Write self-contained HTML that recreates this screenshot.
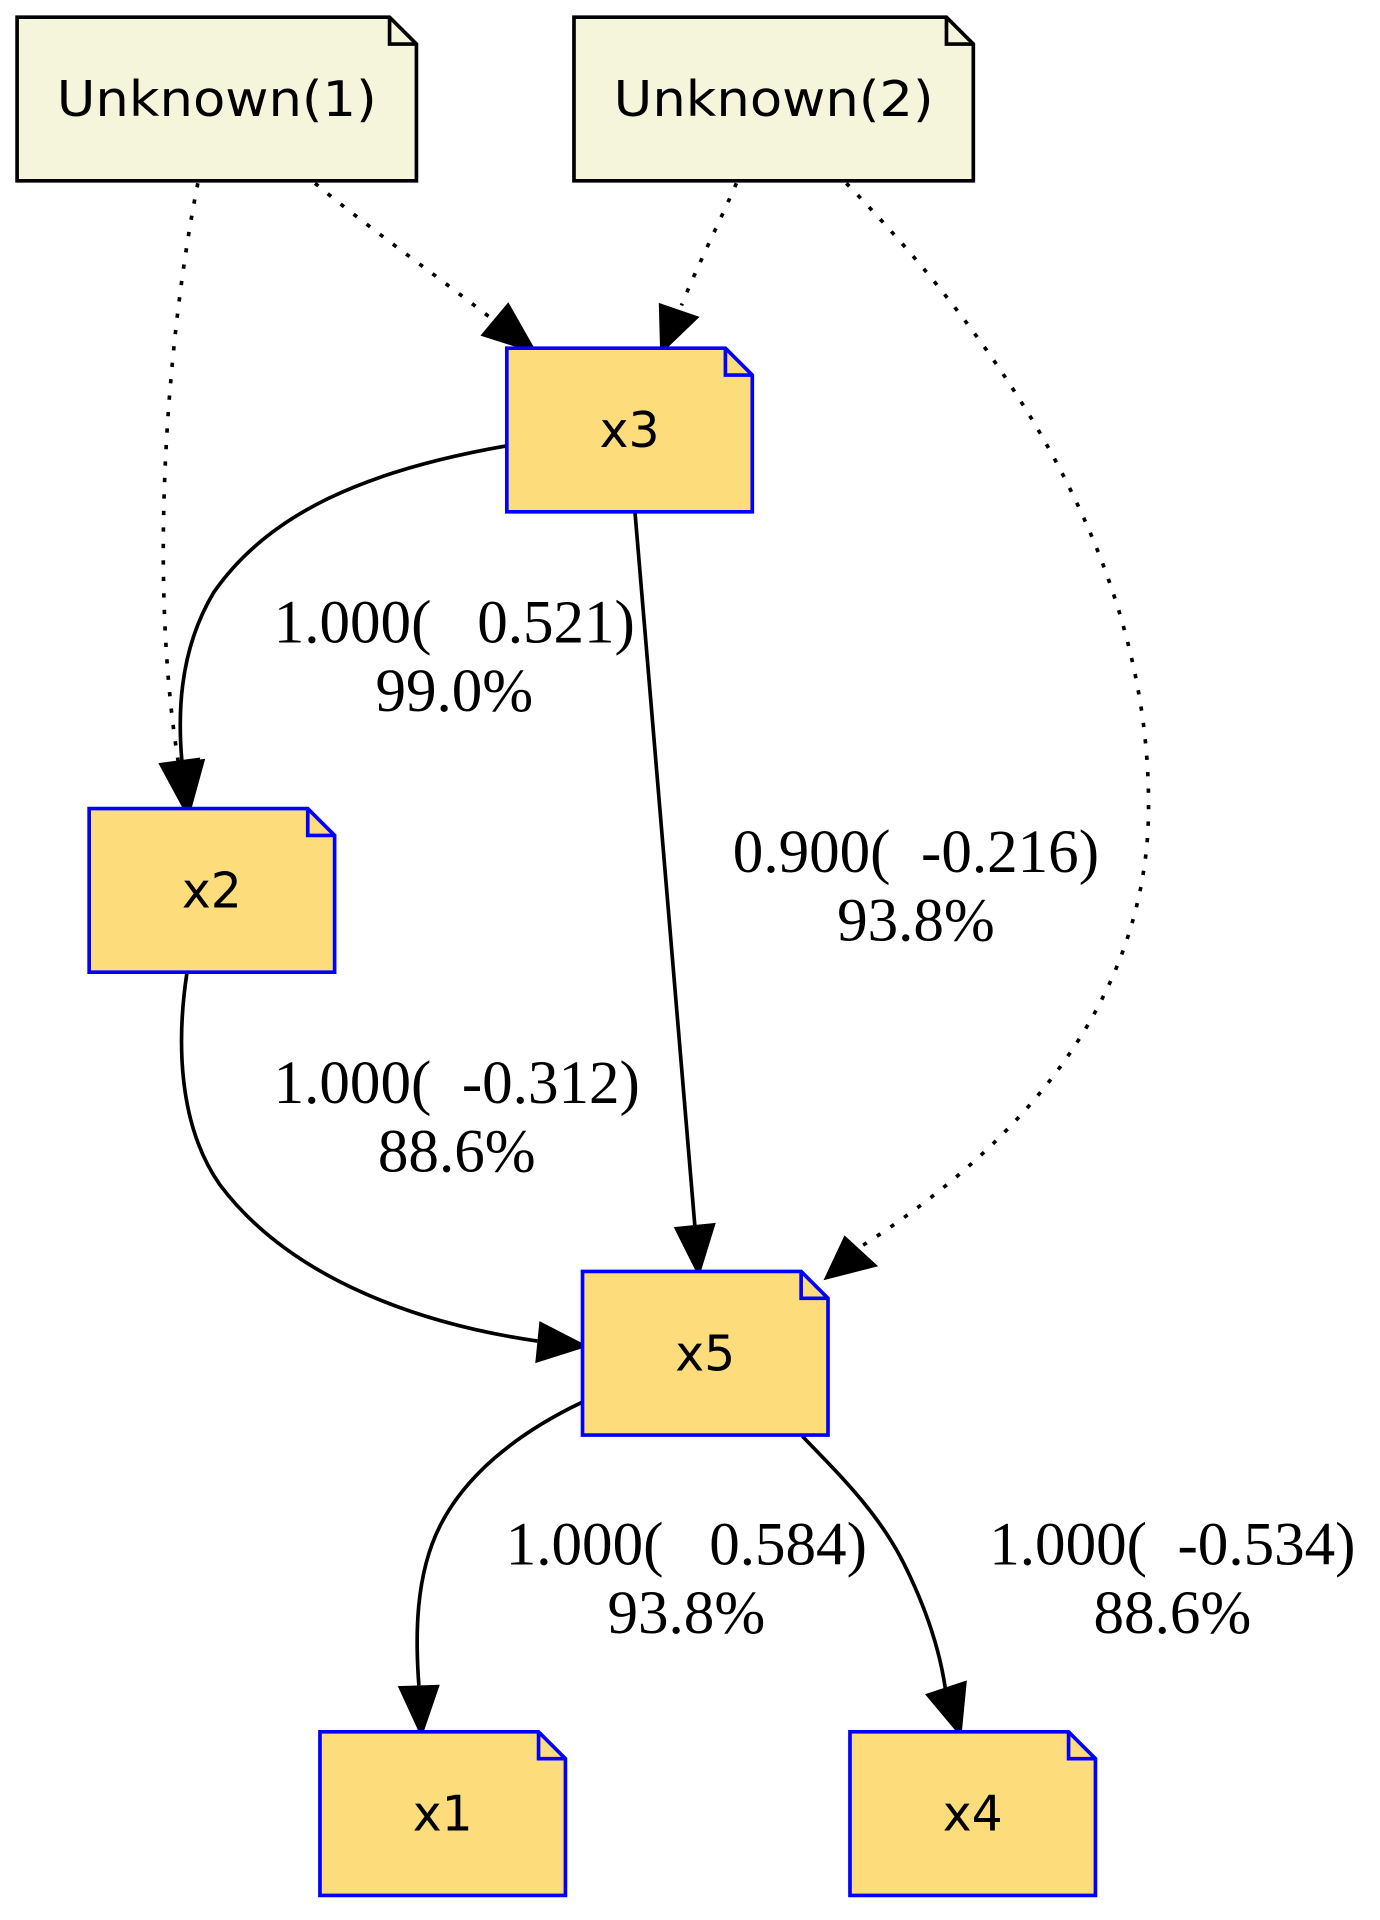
<!DOCTYPE html>
<html><head><meta charset="utf-8"><style>
html,body{margin:0;padding:0;background:#fff;width:1380px;height:1920px;overflow:hidden}
svg{display:block}
</style></head><body>
<svg id="g" width="1380" height="1920" viewBox="0 0 1130 1572" xmlns="http://www.w3.org/2000/svg"></svg>
<script>
const nodeNames = ["Unknown(1)","Unknown(2)","x3","x2","x5","x1","x4"];
const nodeX = [14,470,415,73,477,262,696];
const nodeY = [14,14,285,662,1041,1418,1418];
const nodeLatent = [true,true,false,false,false,false,false];
const edgePaths = [
 ["M162,150 C140,260 120,460 146,624", true, [152,663],[132,626],[162,622]],
 ["M258,150 C300,185 350,220 404,262", true, [437,287],[396,274],[416,250]],
 ["M603,150 C590,180 570,220 558,250", true, [542,287],[541,250],[570,260]],
 ["M693,150 C800,260 950,450 940,680 C930,850 800,960 706,1020", true, [677,1046],[692,1014],[716,1036]],
 ["M415,365 C300,385 220,420 175,485 C145,535 146,590 149,624", false, [155,663],[136,626],[166,623]],
 ["M520,420 L569,1004", false, [572,1042],[554,1006],[584,1003]],
 ["M153,797 C145,850 145,920 180,970 C240,1050 350,1085 440,1098", false, [478,1102],[440,1114],[443,1084]],
 ["M477,1148 C420,1175 380,1210 360,1250 C340,1290 340,1340 343,1380", false, [345,1419],[328,1382],[358,1381]],
 ["M657,1176 C690,1210 720,1240 740,1280 C760,1320 770,1355 774,1382", false, [786,1419],[760,1388],[790,1378]]
];
const labelText = [["1.000(   0.521)","99.0%"],["0.900(  -0.216)","93.8%"],["1.000(  -0.312)","88.6%"],["1.000(   0.584)","93.8%"],["1.000(  -0.534)","88.6%"]];
const labelX = [372,750,374,562,960];
const labelY = [526,714,903,1281,1281];
const ns="http://www.w3.org/2000/svg";
const g=document.getElementById('g');
function mk(t,a){const e=document.createElementNS(ns,t);for(const k in a)e.setAttribute(k,a[k]);g.appendChild(e);return e;}
edgePaths.forEach((d,i)=>{
 const p=mk('path',{d:d[0],fill:'none',stroke:'#000','stroke-width':3,'stroke-dasharray':d[1]?'3.5 10':'none'});
 
 
 const a=mk('polygon',{points:[d[2],d[3],d[4]].map(q=>q.join(',')).join(' '),fill:'#000',stroke:'#000','stroke-width':3});
 
 
});
nodeNames.forEach((n,i)=>{
 const x=nodeX[i],y=nodeY[i],w=nodeLatent[i]?327:201,h=134,f=22;
 const fill=nodeLatent[i]?'#F5F5DC':'#FDDD7B',st=nodeLatent[i]?'#000':'#0000FF';
 const b=mk('path',{d:`M${x},${y} L${x+w-f},${y} L${x+w},${y+f} L${x+w},${y+h} L${x},${y+h} Z`,fill:fill,stroke:st,'stroke-width':3});
 
 
 mk('path',{d:`M${x+w-f},${y} L${x+w-f},${y+f} L${x+w},${y+f}`,fill:'none',stroke:st,'stroke-width':3});
 const t=mk('text',{x:x+w/2,y:y+h/2+14,'text-anchor':'middle','font-family':'"DejaVu Sans","Liberation Sans",sans-serif','font-size':40,fill:'#000'});
 if(nodeLatent[i]){t.setAttribute('textLength',262);t.setAttribute('lengthAdjust','spacingAndGlyphs');}
 t.textContent=n;
 
 
});
labelText.forEach((l,i)=>{
 l.forEach((s,j)=>{
  const t=mk('text',{x:labelX[i],y:labelY[i]+j*56,'text-anchor':'middle','font-family':'"Liberation Serif",serif','font-size':50,fill:'#000'});
  t.setAttribute('xml:space','preserve');
  t.style.whiteSpace='pre';
  t.textContent=s;
  
  
 });
});
</script>
</body></html>
